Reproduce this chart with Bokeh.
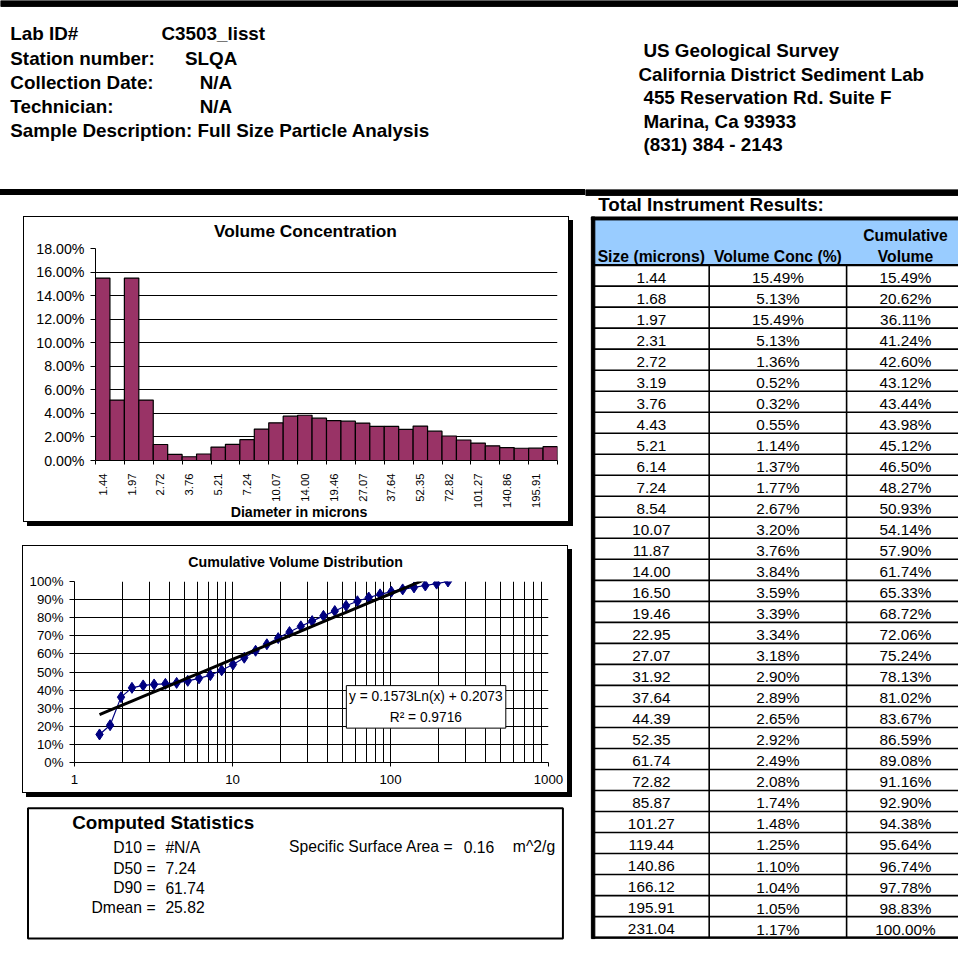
import math
from bokeh.plotting import figure
from bokeh.models import Range1d, FixedTicker, NumeralTickFormatter, Title
from bokeh.layouts import column, row
from bokeh.core.properties import value
from bokeh.embed import file_html
from bokeh.resources import INLINE

# ---------------- data ----------------
sizes = [1.44, 1.68, 1.97, 2.31, 2.72, 3.19, 3.76, 4.43, 5.21, 6.14, 7.24, 8.54,
         10.07, 11.87, 14.00, 16.50, 19.46, 22.95, 27.07, 31.92, 37.64, 44.39,
         52.35, 61.74, 72.82, 85.87, 101.27, 119.44, 140.86, 166.12, 195.91, 231.04]
vol_conc = [15.49, 5.13, 15.49, 5.13, 1.36, 0.52, 0.32, 0.55, 1.14, 1.37, 1.77, 2.67,
            3.20, 3.76, 3.84, 3.59, 3.39, 3.34, 3.18, 2.90, 2.89, 2.65,
            2.92, 2.49, 2.08, 1.74, 1.48, 1.25, 1.10, 1.04, 1.05, 1.17]
cum_vol = [15.49, 20.62, 36.11, 41.24, 42.60, 43.12, 43.44, 43.98, 45.12, 46.50, 48.27, 50.93,
           54.14, 57.90, 61.74, 65.33, 68.72, 72.06, 75.24, 78.13, 81.02, 83.67,
           86.59, 89.08, 91.16, 92.90, 94.38, 95.64, 96.74, 97.78, 98.83, 100.00]

bar_y_ticks = [0.0, 0.02, 0.04, 0.06, 0.08, 0.10, 0.12, 0.14, 0.16, 0.18]
cum_y_ticks = [0.0, 0.1, 0.2, 0.3, 0.4, 0.5, 0.6, 0.7, 0.8, 0.9, 1.0]
cum_x_ticks = [1, 10, 100, 1000]
cum_x_minor = [2, 3, 4, 5, 6, 7, 8, 9, 20, 30, 40, 50, 60, 70, 80, 90,
               200, 300, 400, 500, 600, 700, 800, 900]

trend_a, trend_b, trend_r2 = 0.1573, 0.2073, 0.9716

info_labels = ["Lab ID#", "Station number:", "Collection Date:", "Technician:"]
info_values = ["C3503_lisst", "SLQA", "N/A", "N/A"]
sample_label = "Sample Description:"
sample_value = "Full Size Particle Analysis"
address_lines = ["US Geological Survey", "California District Sediment Lab",
                 "455 Reservation Rd.  Suite F", "Marina, Ca 93933", "(831) 384 - 2143"]
stat_names = ["D10 =", "D50 =", "D90 =", "Dmean ="]
stat_values = ["#N/A", "7.24", "61.74", "25.82"]
ssa_parts = ["Specific Surface Area =", "0.16", "m^2/g"]
table_title = "Total Instrument Results:"
table_headers = ["Size (microns)", "Volume Conc (%)", "Cumulative", "Volume"]

# ---------------- helpers ----------------
S = 0.9815
F = value("Liberation Sans")
FN = "Liberation Sans"
BASE_FIX = 0.25   # bokeh places 'alphabetic' text slightly low
HF = 19.2         # header font size (reference px)


def fs(v):
    return f"{v * S:.2f}px"


def no_align(p):
    try:
        p.frame_align = False
    except Exception:
        pass


def page_fig(wpx, hpx, x0, x1, y0, y1):
    p = figure(width=wpx, height=hpx, x_range=Range1d(x0, x1), y_range=Range1d(y1, y0),
               x_axis_type=None, y_axis_type=None, output_backend="svg",
               toolbar_location=None, tools="",
               min_border_left=0, min_border_right=0, min_border_top=0, min_border_bottom=0)
    p.outline_line_color = None
    p.background_fill_color = "white"
    p.border_fill_color = "white"
    no_align(p)
    return p


def txt(p, xs, ys, texts, size, bold=False, align="left", color="black"):
    ys = [y - BASE_FIX * size for y in ys]
    p.text(x=xs, y=ys, text=texts, text_font=F, text_font_size=fs(size),
           text_font_style="bold" if bold else "normal", text_align=align,
           text_baseline="alphabetic", text_color=color)


def box_css(l, t, w, h, sh=4, band=0):
    layers = []
    if band:
        layers.append(f"linear-gradient(#000,#000) 0px 0px / 100% {band}px no-repeat")
    layers += [f"linear-gradient(#fff,#fff) {l + 1}px {t + 1}px / {w - 2}px {h - 2}px no-repeat",
               f"linear-gradient(#000,#000) {l}px {t}px / {w}px {h}px no-repeat",
               f"linear-gradient(#000,#000) {l + sh}px {t + sh}px / {w}px {h}px no-repeat",
               "#fff"]
    return {"background": ", ".join(layers)}


def style_axis(ax, size):
    ax.major_label_text_font = FN
    ax.major_label_text_font_size = fs(size)
    ax.major_label_text_color = "black"
    ax.axis_line_color = "black"
    ax.major_tick_line_color = "black"
    ax.minor_tick_line_color = None
    ax.major_tick_in = 0


# ---------------- header ----------------
hdr = page_fig(958, 189, 0, 976, 0, 193)
hdr.quad(left=[0], right=[976], top=[0], bottom=[6], color="black")
info_y = [39, 64, 89, 113]
txt(hdr, [10] * 4, info_y, info_labels, HF, bold=True)
txt(hdr, [164, 188, 203, 203], info_y, info_values, HF, bold=True)
txt(hdr, [10], [138], [sample_label + " " + sample_value], HF, bold=True)
txt(hdr, [655, 650, 655, 655, 655], [56, 80, 104, 128, 152], address_lines, HF, bold=True)

# ---------------- volume concentration bars ----------------
n = len(sizes)
size_labels = [f"{s:.2f}" for s in sizes]
idx = list(range(n))
label_idx = idx[::2]

bar = figure(width=585, height=347, x_range=Range1d(-0.5, n - 0.5), y_range=Range1d(0, 0.18),
             output_backend="svg", toolbar_location=None, tools="",
             min_border_left=95, min_border_right=28, min_border_top=59, min_border_bottom=76)
no_align(bar)
bar.styles = box_css(23, 27, 546, 306, band=6)
bar.background_fill_color = "white"
bar.border_fill_color = "white"
bar.border_fill_alpha = 0
bar.outline_line_color = None
bar.vbar(x=idx, top=[v / 100 for v in vol_conc], width=1, bottom=0,
         fill_color="#993366", line_color="black", line_width=1.2)

xa = bar.xaxis[0]
style_axis(xa, 11.5)
xa.ticker = FixedTicker(ticks=label_idx, minor_ticks=[i - 0.5 for i in range(0, n + 1, 2)])
xa.major_label_overrides = {i: size_labels[i] for i in label_idx}
xa.major_label_orientation = math.pi / 2
xa.major_tick_line_color = None
xa.major_tick_out = 0
xa.minor_tick_line_color = "black"
xa.minor_tick_in = 0
xa.minor_tick_out = 4
xa.major_label_standoff = 9

ya = bar.yaxis[0]
style_axis(ya, 14.5)
ya.ticker = FixedTicker(ticks=bar_y_ticks)
ya.formatter = NumeralTickFormatter(format="0.00%")
ya.major_tick_out = 5
ya.major_label_standoff = 6
bar.ygrid.ticker = ya.ticker
bar.ygrid.grid_line_color = "black"
bar.ygrid.grid_line_width = 1
bar.xgrid.visible = False

bar.title.text = "Volume Concentration"
bar.title.align = "left"
bar.title.offset = (218 - 97.3) * S
bar.title.text_font = FN
bar.title.text_font_size = fs(17.6)
bar.title.text_font_style = "bold"
bar.title.text_color = "black"
bar.title.standoff = 15
bar.add_layout(Title(text="Diameter in microns", align="left", offset=(235 - 97.3) * S,
                     text_font=FN, text_font_size=fs(14.5), text_font_style="bold",
                     text_color="black", vertical_align="top", standoff=-16), "below")

# ---------------- cumulative distribution ----------------
cum = figure(width=585, height=265, x_axis_type="log", x_range=Range1d(1, 1000), y_range=Range1d(0, 1),
             output_backend="svg", toolbar_location=None, tools="",
             min_border_left=74, min_border_right=37, min_border_top=45, min_border_bottom=39)
no_align(cum)
cum.styles = box_css(22, 9, 546, 248)
cum.background_fill_color = "white"
cum.border_fill_color = "white"
cum.border_fill_alpha = 0
cum.outline_line_color = None

cxa = cum.xaxis[0]
style_axis(cxa, 13.5)
cxa.ticker = FixedTicker(ticks=cum_x_ticks, minor_ticks=cum_x_minor)
cxa.formatter = NumeralTickFormatter(format="0")
cxa.major_tick_out = 4
cxa.major_label_standoff = 8
cya = cum.yaxis[0]
style_axis(cya, 13.5)
cya.ticker = FixedTicker(ticks=cum_y_ticks)
cya.formatter = NumeralTickFormatter(format="0%")
cya.major_tick_out = 5
cya.major_label_standoff = 6
cum.xgrid.ticker = cxa.ticker
cum.ygrid.ticker = cya.ticker
cum.xgrid.grid_line_color = "black"
cum.xgrid.minor_grid_line_color = "black"
cum.ygrid.grid_line_color = "black"

cum_frac = [c / 100 for c in cum_vol]
cum.line(sizes, cum_frac, line_color="#000080", line_width=1.2)
cum.scatter(sizes, cum_frac, marker="diamond", size=11, fill_color="#000080", line_color="#000080")
trend = [trend_a * math.log(s) + trend_b for s in sizes]
cum.line(sizes, trend, line_color="black", line_width=3)

# equation box position (reference pixels -> data)
CX0, CX1, CY0, CY1 = 75.0, 558.0, 776.0, 591.7


def cx(px):
    return 10 ** (3 * (px - CX0) / (CX1 - CX0))


def cy(py):
    return (CY0 - py) / (CY0 - CY1)


cum.quad(left=[cx(352)], right=[cx(514.5)], top=[cy(697.7)], bottom=[cy(741)],
         fill_color="white", line_color="black", line_width=1)
cum.text(x=[cx(433), cx(433)], y=[cy(712 - BASE_FIX * 14), cy(734 - BASE_FIX * 14)],
         text=[f"y = {trend_a}Ln(x) + {trend_b}", f"R\u00b2 = {trend_r2}"],
         text_font=F, text_font_size=fs(14), text_align="center", text_baseline="alphabetic",
         text_color="black")

cum.title.text = "Cumulative Volume Distribution"
cum.title.align = "left"
cum.title.offset = (191 - 75) * S
cum.title.text_font = FN
cum.title.text_font_size = fs(14.5)
cum.title.text_font_style = "bold"
cum.title.text_color = "black"
cum.title.standoff = 24

# ---------------- statistics ----------------
st = page_fig(585, 142, 0, 596, 816, 961)
st.quad(left=[28], right=[573], top=[823], bottom=[956], fill_color="white",
        line_color="black", line_width=2)
txt(st, [73], [842], ["Computed Statistics"], 19.2, bold=True)
st_y = [867, 888, 908, 928]
txt(st, [158] * 4, st_y, stat_names, 16, align="right")
txt(st, [168] * 4, st_y, stat_values, 16)
txt(st, [294, 472, 522], [866, 866, 866], ssa_parts, 16)

# ---------------- table ----------------
tb = page_fig(373, 754, 596, 976, 193, 961)
tb.quad(left=[596], right=[976], top=[193], bottom=[199], color="black")
txt(tb, [609], [213], [table_title], HF, bold=True)
tb.quad(left=[604], right=[976], top=[223], bottom=[270], fill_color="#99CCFF", line_color=None)
tb.quad(left=[602, 602], right=[976, 605.5], top=[221, 221], bottom=[224, 956], color="black")
RT, RB = 270.0, 955.0
RH = (RB - RT) / n
hy = [RT + i * RH for i in range(n + 1)]
tb.segment(x0=[603] * (n + 1), x1=[976] * (n + 1), y0=hy, y1=hy, line_color="black", line_width=1.6)
tb.segment(x0=[603, 603], x1=[976, 976], y0=[RT, RB], y1=[RT, RB], line_color="black", line_width=2.4)
tb.segment(x0=[722, 862], x1=[722, 862], y0=[RT, RT], y1=[RB, RB], line_color="black", line_width=1.6)
txt(tb, [663, 792, 922, 922], [265, 265, 244, 265], table_headers, 16, bold=True, align="center")
base = [RT + i * RH + 16.6 for i in range(n)]
txt(tb, [663] * n, base, size_labels, 15.6, align="center")
txt(tb, [792] * n, base, [f"{v:.2f}%" for v in vol_conc], 15.6, align="center")
txt(tb, [922] * n, base, [f"{c:.2f}%" for c in cum_vol], 15.6, align="center")

layout = column(hdr, row(column(bar, cum, st), tb))
open("out.html", "w").write(file_html(layout, INLINE))
